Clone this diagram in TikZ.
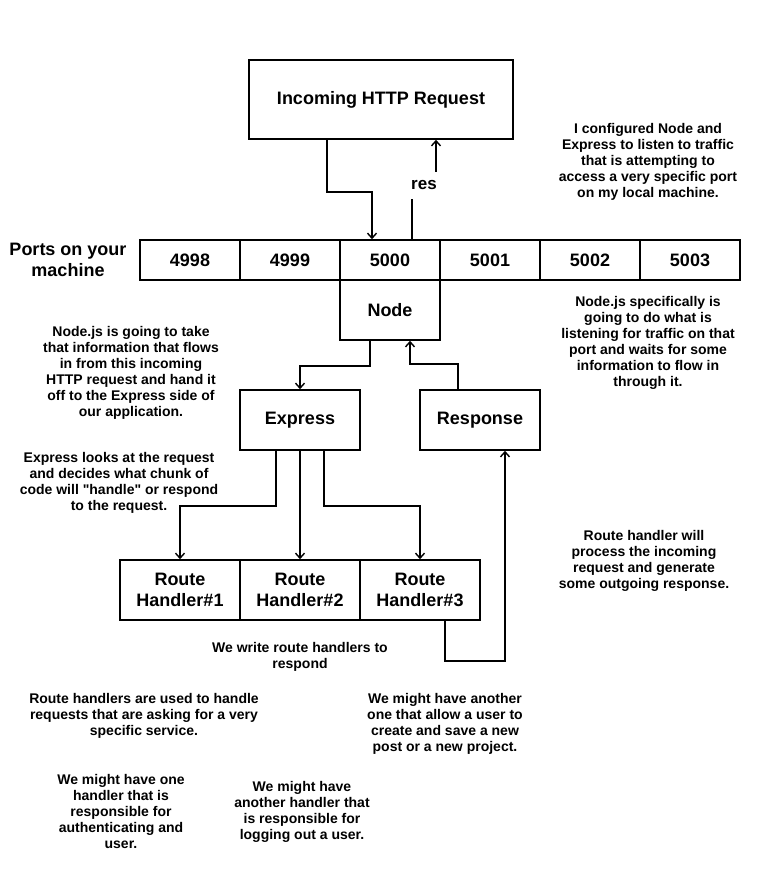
\documentclass[tikz,border=0pt]{standalone}
\usepackage{fontspec}
\setmainfont{Liberation Sans}[Ligatures=TeXOff]
\usetikzlibrary{arrows.meta}
\begin{document}
\begin{tikzpicture}[x=1pt,y=-1pt,
  box/.style={draw, line width=1.6pt, inner sep=0pt, font=\fontsize{18}{21}\selectfont\bfseries, align=center},
  note/.style={inner sep=0pt, align=center, font=\fontsize{14}{16}\selectfont\bfseries},
  arr/.style={line width=1.6pt, -{Straight Barb[length=5pt,width=9pt,line width=1.4pt]}},
  conn/.style={line width=1.6pt}]
\useasboundingbox (0,0) rectangle (760,870);
% boxes
\node[box, minimum width=264pt, minimum height=79pt] (req) at (381,99.5) {Incoming HTTP Request};
\node[box, minimum width=100pt, minimum height=40pt] (p4998) at (190,260) {4998};
\node[box, minimum width=100pt, minimum height=40pt] (p4999) at (290,260) {4999};
\node[box, minimum width=100pt, minimum height=40pt] (p5000) at (390,260) {5000};
\node[box, minimum width=100pt, minimum height=40pt] (p5001) at (490,260) {5001};
\node[box, minimum width=100pt, minimum height=40pt] (p5002) at (590,260) {5002};
\node[box, minimum width=100pt, minimum height=40pt] (p5003) at (690,260) {5003};
\node[box, draw=none] (plabel) at (68,259.5) {Ports on your\\machine};
\node[box, minimum width=100pt, minimum height=60pt] (nodejs) at (390,310) {Node};
\node[box, minimum width=120pt, minimum height=60pt] (express) at (300,420) {Express};
\node[box, minimum width=120pt, minimum height=60pt] (resp) at (480,420) {Response};
\node[box, minimum width=120pt, minimum height=60pt] (h1) at (180,590) {Route\\Handler\#1};
\node[box, minimum width=120pt, minimum height=60pt] (h2) at (300,590) {Route\\Handler\#2};
\node[box, minimum width=120pt, minimum height=60pt] (h3) at (420,590) {Route\\Handler\#3};
% connectors
\draw[arr] ([xshift=-54pt]req.south) -- ++(0,52) -| ([xshift=-18pt]p5000.north);
\draw[arr] ([xshift=22pt]p5000.north) -- ++(0,-54) -| ([xshift=55pt]req.south)
  node[pos=0.25, fill=white, inner sep=0pt, minimum width=34pt, minimum height=27pt, font=\fontsize{17}{20}\selectfont\bfseries] (reslbl) {res};
\draw[arr] ([xshift=-20pt]nodejs.south) -- ++(0,25) -| (express.north);
\draw[arr] ([xshift=-22pt]resp.north) -- ++(0,-25) -| ([xshift=20pt]nodejs.south);
\draw[arr] ([xshift=-24pt]express.south) -- ++(0,55) -| (h1.north);
\draw[arr] (express.south) -- (h2.north);
\draw[arr] ([xshift=24pt]express.south) -- ++(0,55) -| (h3.north);
\draw[arr] ([xshift=25pt]h3.south) -- ++(0,40) -| ([xshift=25pt]resp.south);
% notes
\node[note] (t1) at (648,162) {I configured Node and\\Express to listen to traffic\\that is attempting to\\access a very specific port\\on my local machine.};
\node[note] (t2) at (648,342.5) {Node.js specifically is\\going to do what is\\listening for traffic on that\\port and waits for some\\information to flow in\\through it.};
\node[note] (t3) at (131,373) {Node.js is going to take\\that information that flows\\in from this incoming\\HTTP request and hand it\\off to the Express side of\\our application.};
\node[note] (t4) at (119,483) {Express looks at the request\\and decides what chunk of\\code will "handle" or respond\\to the request.};
\node[note] (t5) at (644,561) {Route handler will\\process the incoming\\request and generate\\some outgoing response.};
\node[note] (t6) at (300,657) {We write route handlers to\\respond};
\node[note] (t7) at (144,716) {Route handlers are used to handle\\requests that are asking for a very\\specific service.};
\node[note] (t8) at (445,724) {We might have another\\one that allow a user to\\create and save a new\\post or a new project.};
\node[note] (t9) at (121,811) {We might have one\\handler that is\\responsible for\\authenticating and\\user.};
\node[note] (t10) at (302,811.5) {We might have\\another handler that\\is responsible for\\logging out a user.};
\end{tikzpicture}
\end{document}
